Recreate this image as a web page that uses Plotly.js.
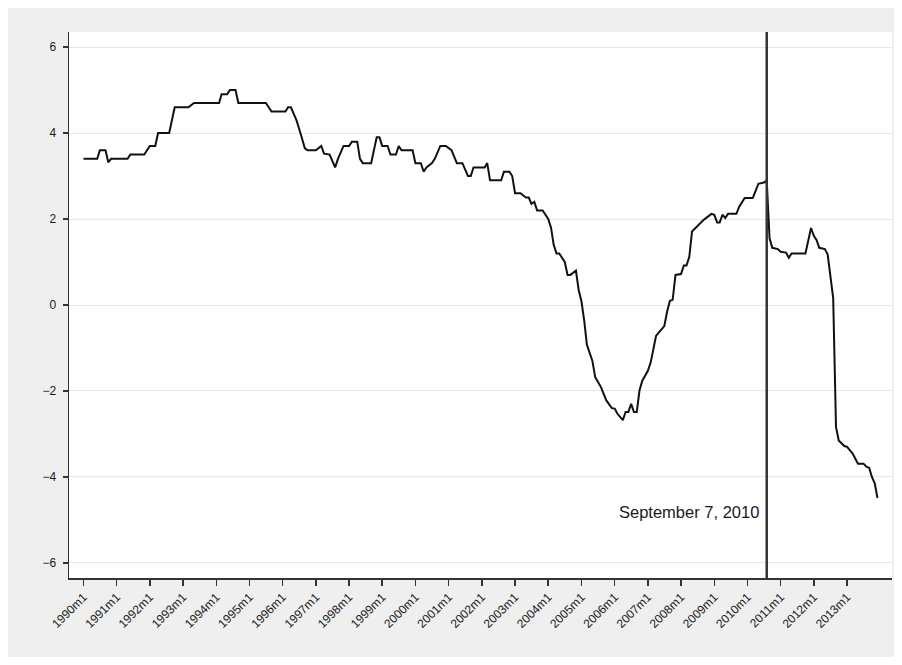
<!DOCTYPE html>
<html>
<head>
<meta charset="utf-8">
<script src="https://cdn.plot.ly/plotly-3.0.1.min.js"></script>
<style>
  html, body { margin: 0; padding: 0; background: #ffffff; }
  #chart { position: absolute; left: 8px; top: 8px; width: 886px; height: 649px; }
</style>
</head>
<body>
<div id="chart"></div>
<script>
const months = [
  '1990-01','1990-06','1990-07','1990-09','1990-10','1990-11','1991-05','1991-06','1991-11','1992-01',
  '1992-03','1992-04','1992-08','1992-10','1993-03','1993-05','1994-02','1994-03','1994-05','1994-06',
  '1994-08','1994-09','1995-07','1995-09','1996-02','1996-03','1996-04','1996-05','1996-06','1996-07',
  '1996-08','1996-09','1996-10','1997-01','1997-03','1997-04','1997-06','1997-08','1997-09','1997-11',
  '1998-01','1998-02','1998-04','1998-05','1998-06','1998-09','1998-11','1998-12','1999-01','1999-03',
  '1999-04','1999-06','1999-07','1999-08','1999-12','2000-01','2000-03','2000-04','2000-05','2000-07',
  '2000-08','2000-10','2000-12','2001-02','2001-04','2001-06','2001-08','2001-09','2001-10','2002-02',
  '2002-03','2002-04','2002-08','2002-09','2002-11','2002-12','2003-01','2003-03','2003-05','2003-06',
  '2003-07','2003-08','2003-09','2003-11','2004-01','2004-02','2004-03','2004-04','2004-05','2004-07',
  '2004-08','2004-09','2004-11','2004-12','2005-01','2005-02','2005-03','2005-05','2005-06','2005-08',
  '2005-10','2005-12','2006-01','2006-02','2006-04','2006-05','2006-06','2006-07','2006-08','2006-09',
  '2006-10','2006-11','2007-01','2007-02','2007-04','2007-05','2007-07','2007-08','2007-09','2007-10',
  '2007-11','2008-01','2008-02','2008-03','2008-04','2008-05','2008-06','2008-08','2008-09','2008-10',
  '2008-12','2009-01','2009-02','2009-03','2009-04','2009-05','2009-06','2009-09','2009-10','2009-12',
  '2010-03','2010-05','2010-07','2010-08','2010-09','2010-10','2010-12','2011-01','2011-03','2011-04',
  '2011-05','2011-10','2011-11','2011-12','2012-01','2012-02','2012-03','2012-05','2012-06','2012-07',
  '2012-08','2012-09','2012-10','2012-12','2013-01','2013-03','2013-05','2013-07','2013-08','2013-09',
  '2013-10','2013-11','2013-12'
];
const values = [
  3.4, 3.4, 3.6, 3.6, 3.32, 3.4, 3.4, 3.5, 3.5, 3.7,
  3.7, 4.0, 4.0, 4.6, 4.6, 4.7, 4.7, 4.9, 4.9, 5.0,
  5.0, 4.7, 4.7, 4.5, 4.5, 4.6, 4.6, 4.45, 4.3, 4.1,
  3.9, 3.65, 3.6, 3.6, 3.7, 3.52, 3.5, 3.2, 3.4, 3.7,
  3.7, 3.8, 3.8, 3.4, 3.3, 3.3, 3.9, 3.9, 3.7, 3.7,
  3.5, 3.5, 3.7, 3.6, 3.6, 3.3, 3.3, 3.1, 3.2, 3.3,
  3.4, 3.7, 3.7, 3.6, 3.3, 3.3, 3.0, 3.0, 3.2, 3.2,
  3.3, 2.9, 2.9, 3.1, 3.1, 3.0, 2.6, 2.6, 2.5, 2.5,
  2.35, 2.4, 2.2, 2.2, 2.0, 1.8, 1.4, 1.2, 1.2, 1.0,
  0.7, 0.7, 0.8, 0.35, 0.08, -0.38, -0.92, -1.3, -1.68, -1.9,
  -2.22, -2.4, -2.41, -2.53, -2.68, -2.49, -2.49, -2.3, -2.49, -2.49,
  -1.99, -1.76, -1.53, -1.34, -0.72, -0.65, -0.49, -0.15, 0.1, 0.12,
  0.7, 0.72, 0.92, 0.92, 1.12, 1.71, 1.78, 1.92, 1.97, 2.02,
  2.12, 2.1, 1.92, 1.92, 2.1, 2.02, 2.12, 2.12, 2.28, 2.49,
  2.49, 2.82, 2.85, 2.89, 1.55, 1.33, 1.3, 1.24, 1.22, 1.1,
  1.2, 1.2, 1.47, 1.79, 1.61, 1.51, 1.33, 1.3, 1.18, 0.62,
  0.16, -2.84, -3.15, -3.28, -3.3, -3.45, -3.69, -3.69, -3.76, -3.79,
  -4.0, -4.15, -4.49
];

const tickDates = ['1990-01-01','1991-01-01','1992-01-01','1993-01-01','1994-01-01','1995-01-01',
  '1996-01-01','1997-01-01','1998-01-01','1999-01-01','2000-01-01','2001-01-01','2002-01-01',
  '2003-01-01','2004-01-01','2005-01-01','2006-01-01','2007-01-01','2008-01-01','2009-01-01',
  '2010-01-01','2011-01-01','2012-01-01','2013-01-01'];
const tickLabels = ['1990m1','1991m1','1992m1','1993m1','1994m1','1995m1','1996m1','1997m1',
  '1998m1','1999m1','2000m1','2001m1','2002m1','2003m1','2004m1','2005m1','2006m1','2007m1',
  '2008m1','2009m1','2010m1','2011m1','2012m1','2013m1'];
const yTicks = [-6, -4, -2, 0, 2, 4, 6];

const eventDate = '2010-08-01';
const eventLabel = 'September 7, 2010';

const trace = {
  x: months.map(m => m + '-01'),
  y: values,
  type: 'scatter',
  mode: 'lines',
  line: { color: '#111111', width: 2 },
  hoverinfo: 'skip'
};

const layout = {
  width: 886,
  height: 649,
  margin: { l: 61, r: 2, t: 24, b: 79 },
  paper_bgcolor: '#efefef',
  plot_bgcolor: '#ffffff',
  showlegend: false,
  font: { family: 'Liberation Sans, Arial, sans-serif', color: '#1a1a1a', size: 12 },
  xaxis: {
    type: 'date',
    range: ['1989-07-26', '2014-05-10'],
    tickmode: 'array',
    tickvals: tickDates,
    ticktext: tickLabels,
    tickangle: -45,
    ticks: 'outside',
    ticklen: 6,
    tickwidth: 1.5,
    tickcolor: '#333333',
    showgrid: false,
    zeroline: false,
    showline: true,
    linecolor: '#333333',
    linewidth: 1.5,
    tickfont: { size: 12, color: '#1a1a1a' }
  },
  yaxis: {
    range: [-6.35, 6.35],
    tickmode: 'array',
    tickvals: yTicks,
    ticks: 'outside',
    ticklen: 5,
    tickwidth: 1.5,
    tickcolor: '#333333',
    showgrid: true,
    gridcolor: '#e6e6e6',
    gridwidth: 1,
    zeroline: false,
    showline: true,
    linecolor: '#333333',
    linewidth: 1.5,
    ticklabelstandoff: 4,
    tickfont: { size: 12, color: '#1a1a1a' }
  },
  shapes: [{
    type: 'line',
    xref: 'x', yref: 'paper',
    x0: eventDate, x1: eventDate, y0: 0, y1: 1,
    line: { color: '#333333', width: 2.5 }
  }],
  annotations: [{
    x: eventDate, xref: 'x',
    y: -4.82, yref: 'y',
    text: eventLabel,
    showarrow: false,
    xanchor: 'right',
    yanchor: 'middle',
    xshift: -6,
    font: { size: 16.5, color: '#1a1a1a', family: 'Liberation Sans, Arial, sans-serif' }
  }]
};

Plotly.newPlot('chart', [trace], layout, { displayModeBar: false, staticPlot: true });
</script>
</body>
</html>
